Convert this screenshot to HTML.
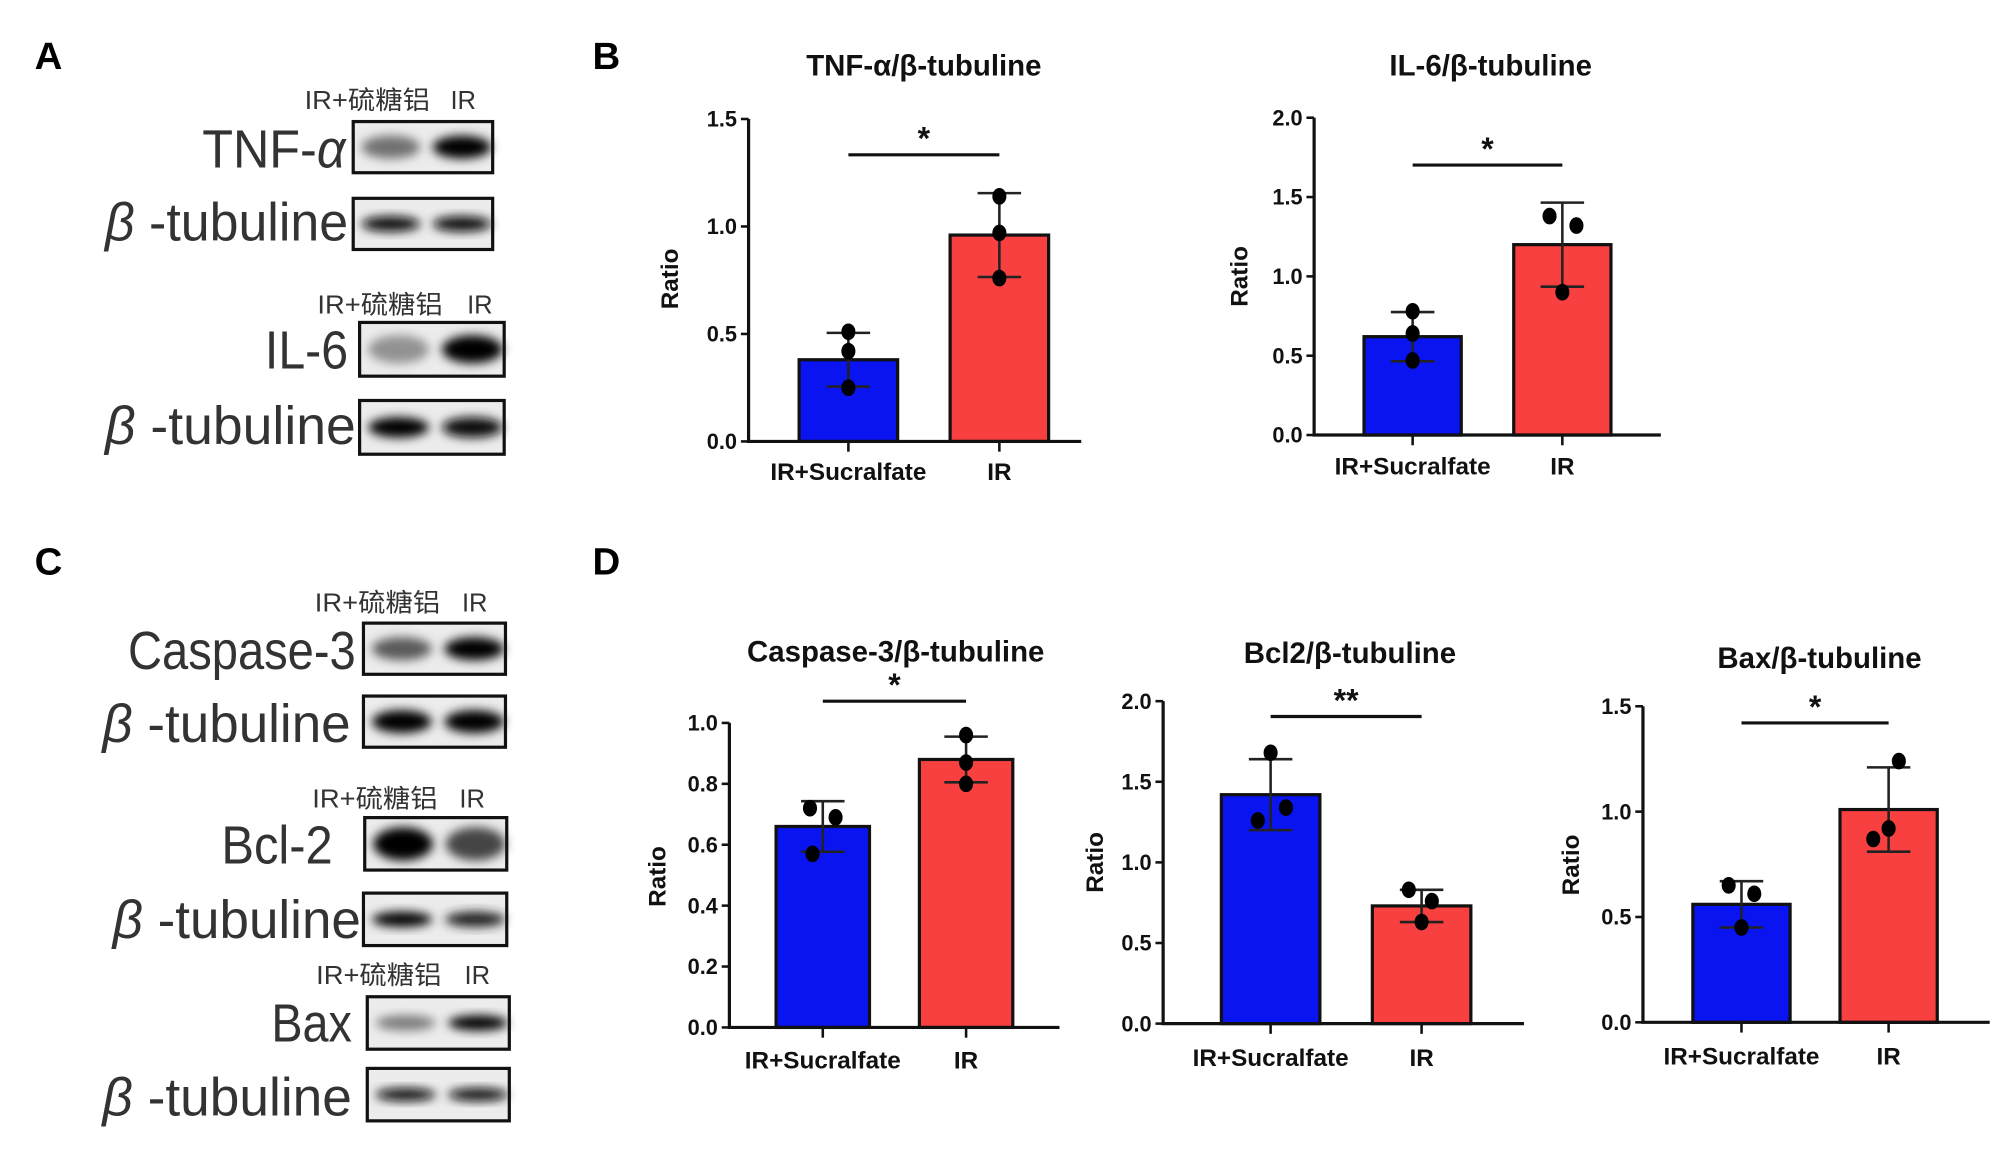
<!DOCTYPE html>
<html><head><meta charset="utf-8">
<style>
html,body{margin:0;padding:0;background:#fff;}
svg{display:block;}
.lbl{font-family:"Liberation Sans",sans-serif;font-weight:bold;font-size:30px;fill:#000;}
.blot{font-family:"Liberation Sans","Noto Sans CJK SC",sans-serif;fill:#333;}
.ct{font-family:"Liberation Sans",sans-serif;font-weight:bold;fill:#111;}
</style></head>
<body>
<svg id="fig" width="2000" height="1149" viewBox="0 0 1563 898" xmlns="http://www.w3.org/2000/svg">
<defs>
<filter id="blur" x="-50%" y="-50%" width="200%" height="200%"><feGaussianBlur stdDeviation="4"/></filter>
</defs>
<text class="lbl" x="27" y="54">A</text>
<text class="lbl" x="463" y="54">B</text>
<text class="lbl" x="27" y="449">C</text>
<text class="lbl" x="463" y="449">D</text>
<g id="blots"></g>
<g id="charts"></g>
</svg>
<script>
const NS='http://www.w3.org/2000/svg';
function mk(tag,attrs,parent,txt){const e=document.createElementNS(NS,tag);for(const k in attrs)e.setAttribute(k,attrs[k]);if(txt!==undefined)e.textContent=txt;parent.appendChild(e);return e;}

/* ---------- Blots ---------- */
const blotG=document.getElementById('blots');
// header rows: [x, y, irX]
const headers=[[238,85,352],[248,245,365],[246,478,361],[244,631,359],[247,769,363]];
headers.forEach(h=>{
  const t=mk('text',{class:'blot',x:h[0],y:h[1],'font-size':20,textLength:98,lengthAdjust:'spacingAndGlyphs'},blotG,'IR+硫糖铝');
  
  
  const t2=mk('text',{class:'blot',x:h[2],y:h[1],'font-size':20},blotG,'IR');
  
  
});
// label, right x, baseline, box x,y,w,h, lane intensities, band thickness, label width
const blots=[
 ['TNF-α',270,131,276,95,109,40,[0.5,1.0],9,112],
 ['β-tubuline',272,188,276,155,109,40,[0.95,0.95],6,190],
 ['IL-6',272,288,281,252,113,42,[0.35,1.0],11,65],
 ['β-tubuline',278,347,281,313,113,42,[1.0,0.95],8,196],
 ['Caspase-3',278,523,284,487,111,40,[0.6,1.0],9,178],
 ['β-tubuline',274,580,284,544,111,40,[1.0,1.0],9,194],
 ['Bcl-2',260,675,285,639,111,41,[1.0,0.7],13,87],
 ['β-tubuline',282,733,284,698,112,41,[1.0,0.85],6,194],
 ['Bax',275,814,287,779,111,41,[0.45,1.0],6,63],
 ['β-tubuline',275,872,287,835,111,41,[0.95,0.95],5,195]
];
blots.forEach(b=>{
  const g=mk('g',{},blotG);
  
  
  const common={class:'blot',x:b[1]-b[9],y:b[2],'font-size':42,textLength:b[9],lengthAdjust:'spacingAndGlyphs'};
  let t;
  if(b[0].startsWith('β')){
    t=mk('text',common,g);
    mk('tspan',{'font-style':'italic'},t,'β');
    mk('tspan',{},t,' -tubuline');
  } else if(b[0]==='TNF-α'){
    t=mk('text',common,g);
    mk('tspan',{},t,'TNF-');
    mk('tspan',{'font-style':'italic'},t,'α');
  } else {
    t=mk('text',common,g,b[0]);
  }
  
  
  mk('rect',{x:b[3],y:b[4],width:b[5],height:b[6],fill:'#ececec'},g);
  const cx=[b[3]+b[5]*0.27,b[3]+b[5]*0.78];
  b[7].forEach((v,i)=>{
    const c=Math.round(225-225*v);
    mk('ellipse',{cx:cx[i],cy:b[4]+b[6]/2,rx:b[5]*0.21,ry:b[8],fill:`rgb(${c},${c},${c})`,filter:'url(#blur)'},g);
  });
  mk('rect',{x:b[3],y:b[4],width:b[5],height:b[6],fill:'none',stroke:'#111','stroke-width':2.5},g);
});

/* ---------- Charts data ---------- */
const chartTitles=['TNF-α/β-tubuline','IL-6/β-tubuline','Caspase-3/β-tubuline','Bcl2/β-tubuline','Bax/β-tubuline'];
const categories=['IR+Sucralfate','IR'];
const meanSucralfate=[0.38,0.62,0.66,1.42,0.56];
const meanIR=[0.96,1.20,0.88,0.73,1.01];
const sdSucralfate=[0.125,0.155,0.083,0.22,0.11];
const sdIR=[0.195,0.265,0.075,0.10,0.20];
const pointsSucralfate=[[0.51,0.42,0.25],[0.78,0.64,0.47],[0.72,0.69,0.57],[1.68,1.34,1.26],[0.65,0.61,0.45]];
const pointsIR=[[1.14,0.97,0.76],[1.38,1.32,0.90],[0.96,0.87,0.80],[0.83,0.76,0.63],[1.24,0.92,0.87]];
const significance=['*','*','*','**','*'];
const yMax=[1.5,2.0,1.0,2.0,1.5];
const yTickLabels=[['0.0','0.5','1.0','1.5'],['0.0','0.5','1.0','1.5','2.0'],['0.0','0.2','0.4','0.6','0.8','1.0'],['0.0','0.5','1.0','1.5','2.0'],['0.0','0.5','1.0','1.5']];

/* layout (pixel geometry, not data) */
const layouts=[
 {ax:585,y0:345,yt:93,c:[663,781],bw:77,end:845,tx:722,ty:59,rx:530,ry:218,sig:121,cat:375},
 {ax:1027,y0:340,yt:92,c:[1104,1221],bw:76,end:1298,tx:1165,ty:59,rx:975,ry:216,sig:129,cat:371},
 {ax:570,y0:803,yt:565,c:[643,755],bw:73,end:828,tx:700,ty:517,rx:520,ry:685,sig:548,cat:835},
 {ax:909,y0:800,yt:548,c:[993,1111],bw:77,end:1191,tx:1055,ty:518,rx:862,ry:674,sig:560,cat:833},
 {ax:1284,y0:799,yt:552,c:[1361,1476],bw:76,end:1555,tx:1422,ty:522,rx:1234,ry:676,sig:565,cat:832}
];
const jitter=[[0,0,0],[0,0,0],[-10,10,-8],[0,12,-10],[-10,10,0]];
const jitterIR=[[0,0,0],[-10,11,0],[0,0,0],[-10,8,0],[8,0,-12]];

const chartsG=document.getElementById('charts');
layouts.forEach((L,i)=>{
  const g=mk('g',{},chartsG);
  
  
  const y=v=>L.y0-(v/yMax[i])*(L.y0-L.yt);
  const t=mk('text',{class:'ct',x:L.tx,y:L.ty,'font-size':23,'text-anchor':'middle'},g,chartTitles[i]);
  
  
  const r=mk('text',{class:'ct',x:0,y:0,'font-size':19,'text-anchor':'middle',transform:`translate(${L.rx},${L.ry}) rotate(-90)`},g,'Ratio');
  
  
  const means=[meanSucralfate[i],meanIR[i]], sds=[sdSucralfate[i],sdIR[i]], pts=[pointsSucralfate[i],pointsIR[i]], jit=[jitter[i],jitterIR[i]];
  const cols=['#0a14f0','#f94040'];
  means.forEach((m,k)=>{
    const b=mk('rect',{x:L.c[k]-L.bw/2,y:y(m),width:L.bw,height:L.y0-y(m),fill:cols[k],stroke:'#111','stroke-width':2.5},g);
    
    
    const e=mk('path',{d:`M${L.c[k]} ${y(m-sds[k])}V${y(m+sds[k])}M${L.c[k]-17} ${y(m+sds[k])}H${L.c[k]+17}M${L.c[k]-17} ${y(m-sds[k])}H${L.c[k]+17}`,stroke:'#222','stroke-width':2,fill:'none'},g);
    
    
    pts[k].forEach((p,j)=>{
      const c=mk('ellipse',{cx:L.c[k]+jit[k][j],cy:y(p),rx:5.5,ry:6.5,fill:'#000'},g);
      
      
    });
    const ct=mk('text',{class:'ct',x:L.c[k],y:L.cat,'font-size':19,'text-anchor':'middle'},g,categories[k]);
    
    
    mk('line',{x1:L.c[k],x2:L.c[k],y1:L.y0,y2:L.y0+8,stroke:'#111','stroke-width':2},g);
  });
  const ax=mk('path',{d:`M${L.ax} ${L.yt}V${L.y0}H${L.end}`,stroke:'#111','stroke-width':2.5,fill:'none'},g);
  
  
  yTickLabels[i].forEach(s=>{
    const v=parseFloat(s);
    mk('line',{x1:L.ax-6,x2:L.ax,y1:y(v),y2:y(v),stroke:'#111','stroke-width':2},g);
    const tl=mk('text',{class:'ct',x:L.ax-9,y:y(v)+6,'font-size':17,'text-anchor':'end'},g,s);
    
    
  });
  const sl=mk('line',{x1:L.c[0],x2:L.c[1],y1:L.sig,y2:L.sig,stroke:'#111','stroke-width':2.5},g);
  
  
  const st=mk('text',{class:'ct',x:(L.c[0]+L.c[1])/2,y:L.sig-4,'font-size':25,'text-anchor':'middle'},g,significance[i]);
  
  
});
</script>
</body></html>
